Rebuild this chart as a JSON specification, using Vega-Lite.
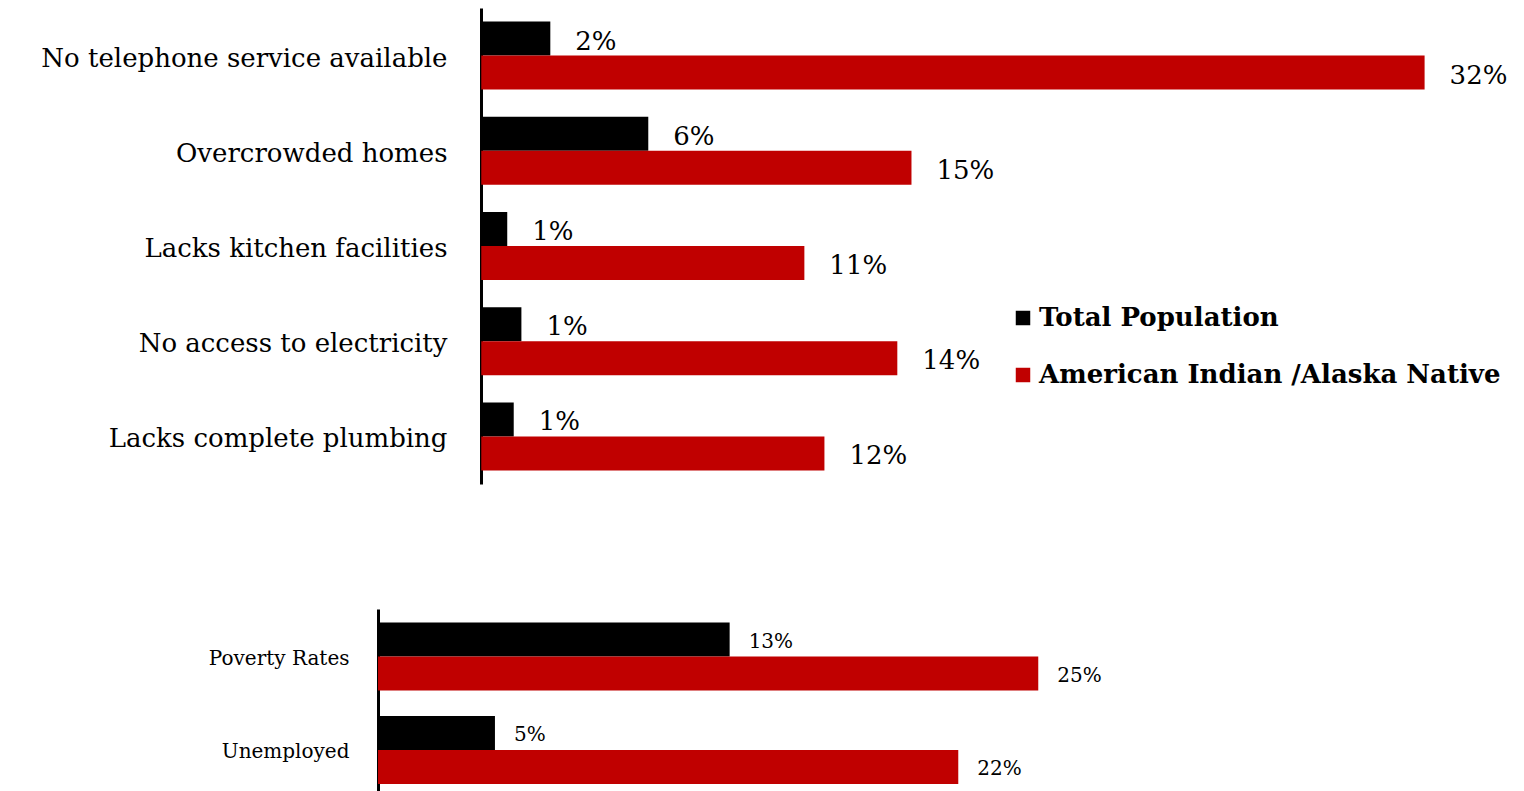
{
  "$schema": "https://vega.github.io/schema/vega-lite/v6.json",
  "padding": {"left": 0, "top": 8, "right": 0, "bottom": 0},
  "background": "white",
  "columns": 1,
  "spacing": 125,
  "config": {"view": {"stroke": null}},
  "resolve": {"scale": {"color": "independent"}, "legend": {"color": "independent"}},
  "datasets": {
    "housing": [
      {"category": "No telephone service available", "series": "Total Population", "value": 0.0234, "label": "2%"},
      {"category": "No telephone service available", "series": "American Indian /Alaska Native", "value": 0.3197, "label": "32%"},
      {"category": "Overcrowded homes", "series": "Total Population", "value": 0.0566, "label": "6%"},
      {"category": "Overcrowded homes", "series": "American Indian /Alaska Native", "value": 0.1458, "label": "15%"},
      {"category": "Lacks kitchen facilities", "series": "Total Population", "value": 0.0088, "label": "1%"},
      {"category": "Lacks kitchen facilities", "series": "American Indian /Alaska Native", "value": 0.1095, "label": "11%"},
      {"category": "No access to electricity", "series": "Total Population", "value": 0.0136, "label": "1%"},
      {"category": "No access to electricity", "series": "American Indian /Alaska Native", "value": 0.1410, "label": "14%"},
      {"category": "Lacks complete plumbing", "series": "Total Population", "value": 0.0110, "label": "1%"},
      {"category": "Lacks complete plumbing", "series": "American Indian /Alaska Native", "value": 0.1163, "label": "12%"}
    ],
    "economy": [
      {"category": "Poverty Rates", "series": "Total Population", "value": 0.1332, "label": "13%"},
      {"category": "Poverty Rates", "series": "American Indian /Alaska Native", "value": 0.2501, "label": "25%"},
      {"category": "Unemployed", "series": "Total Population", "value": 0.0443, "label": "5%"},
      {"category": "Unemployed", "series": "American Indian /Alaska Native", "value": 0.2198, "label": "22%"}
    ]
  },
  "concat": [
    {
      "data": {"name": "housing"},
      "width": 1136,
      "height": 476,
      "encoding": {
        "y": {
          "field": "category", "type": "nominal", "sort": null,
          "scale": {"paddingInner": 0, "paddingOuter": 0},
          "axis": {"title": null, "ticks": false, "domainColor": "black", "domainWidth": 3,
                   "offset": -103,
                   "labelFont": "DejaVu Serif", "labelFontSize": 26, "labelColor": "black",
                   "labelPadding": 34, "labelLimit": 0, "labelOffset": 3,
                   "minExtent": 481, "maxExtent": 481}
        },
        "yOffset": {
          "field": "series", "type": "nominal",
          "sort": ["Total Population", "American Indian /Alaska Native"],
          "scale": {"paddingInner": 0, "paddingOuter": 0.4}
        },
        "x": {"field": "value", "type": "quantitative", "scale": {"domain": [-0.035, 0.35], "nice": false, "zero": false}, "axis": null}
      },
      "layer": [
        {
          "mark": {"type": "bar"},
          "encoding": {
            "color": {
              "field": "series", "type": "nominal",
              "scale": {"domain": ["Total Population", "American Indian /Alaska Native"], "range": ["#000000", "#C00000"]},
              "legend": {"orient": "none", "legendX": 632, "legendY": 297, "title": null,
                         "symbolType": "square", "symbolSize": 210, "symbolStrokeWidth": 0,
                         "labelFont": "DejaVu Serif", "labelFontWeight": "bold", "labelFontSize": 26,
                         "labelColor": "black", "labelOffset": 3, "rowPadding": 31, "padding": 0, "labelLimit": 0}
            }
          }
        },
        {
          "mark": {"type": "text", "align": "left", "baseline": "middle", "dx": 25, "dy": 3,
                   "font": "DejaVu Serif", "fontSize": 26, "color": "black"},
          "encoding": {"text": {"field": "label"}}
        }
      ]
    },
    {
      "data": {"name": "economy"},
      "width": 924,
      "height": 187,
      "encoding": {
        "y": {
          "field": "category", "type": "nominal", "sort": null,
          "scale": {"paddingInner": 0, "paddingOuter": 0},
          "axis": {"title": null, "ticks": false, "domainColor": "black", "domainWidth": 3,
                   "labelFont": "DejaVu Serif", "labelFontSize": 20, "labelColor": "black",
                   "labelPadding": 29, "labelLimit": 0, "labelOffset": 3,
                   "minExtent": 378, "maxExtent": 378}
        },
        "yOffset": {
          "field": "series", "type": "nominal",
          "sort": ["Total Population", "American Indian /Alaska Native"],
          "scale": {"paddingInner": 0, "paddingOuter": 0.4}
        },
        "x": {"field": "value", "type": "quantitative", "scale": {"domain": [0, 0.35], "nice": false}, "axis": null}
      },
      "layer": [
        {
          "mark": {"type": "bar"},
          "encoding": {
            "color": {
              "field": "series", "type": "nominal",
              "scale": {"domain": ["Total Population", "American Indian /Alaska Native"], "range": ["#000000", "#C00000"]},
              "legend": null
            }
          }
        },
        {
          "mark": {"type": "text", "align": "left", "baseline": "middle", "dx": 19, "dy": 2,
                   "font": "DejaVu Serif", "fontSize": 20, "color": "black"},
          "encoding": {"text": {"field": "label"}}
        }
      ]
    }
  ]
}
